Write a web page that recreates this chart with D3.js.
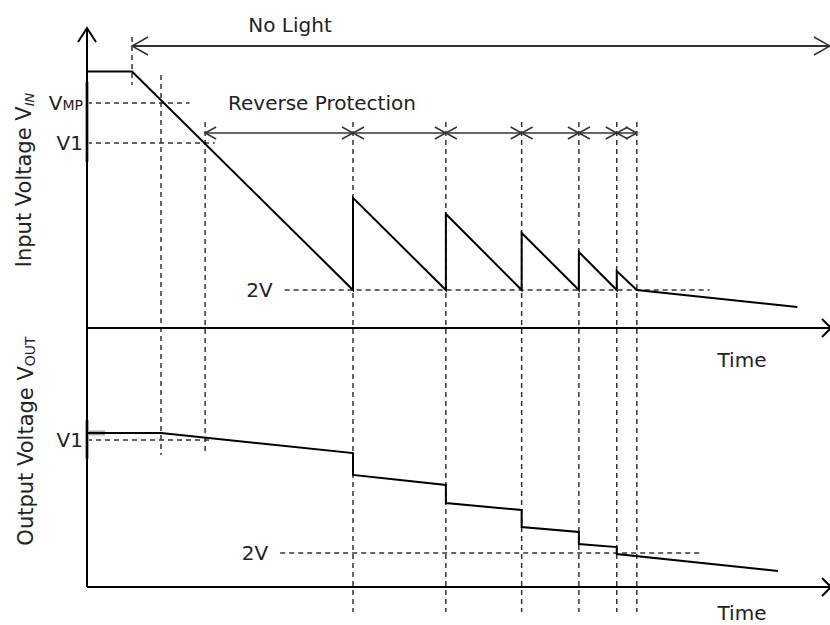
<!DOCTYPE html>
<html>
<head>
<meta charset="utf-8">
<script src="https://cdn.jsdelivr.net/npm/d3@7"></script>
<style>
  body { margin: 0; background: #fff; }
  text { font-family: "DejaVu Sans", Verdana, sans-serif; fill: #222; }
</style>
</head>
<body>
<div id="chart"></div>
<script>
// time is in arbitrary units along the time axis (0..100)
var noLight = [6.06, 100];
var vmpTime = 9.96;
var protectTimes = [15.9, 35.8, 48.3, 58.5, 66.2, 71.3, 74.0];

// input voltage trace, [time, volts]
var vinTrace = [[0, 13.5], [6.06, 13.5], [35.8, 2], [35.8, 6.85], [48.3, 2], [48.3, 6.0],
                [58.5, 2], [58.5, 5.0], [66.2, 2], [66.2, 4.0], [71.3, 2], [71.3, 3.0],
                [74.0, 2], [95.6, 1.1]];
// output voltage trace, [time, volts]
var voutTrace = [[0, 9.06], [9.96, 9.06], [35.8, 7.88], [35.8, 6.59], [48.3, 6.0], [48.3, 4.94],
                 [58.5, 4.53], [58.5, 3.53], [66.2, 3.24], [66.2, 2.53], [71.3, 2.35], [71.3, 1.94],
                 [93.0, 0.94]];

// reference levels: label, volts, dashed from/to (time)
var vinRefs = [
  {label: 'V', sub: 'MP', v: 11.84, from: 0, to: 13.8},
  {label: 'V1', sub: '', v: 9.74, from: 0, to: 17.2},
  {label: '2V', sub: '', v: 2, from: 26.6, to: 83.8}
];
var voutRefs = [
  {label: 'V1', sub: '', v: 8.65, from: 0, to: 16.5},
  {label: '2V', sub: '', v: 2, from: 26.0, to: 82.5}
];

var width = 830, height = 625;
var x0 = 87, inAxisY = 328, outAxisY = 587;

var svg = d3.select('#chart').append('svg')
    .attr('width', width)
    .attr('height', height);

var x = d3.scaleLinear().domain([0, 100]).range([x0, 830]);
var yIn = d3.scaleLinear().domain([0, 15]).range([inAxisY, inAxisY - 15 * 19]);
var yOut = d3.scaleLinear().domain([0, 16]).range([outAxisY, outAxisY - 16 * 17]);

var dashed = svg.append('g')
    .attr('stroke', '#333')
    .attr('stroke-width', 1.5)
    .attr('stroke-dasharray', '5,4')
    .attr('fill', 'none');

// vertical markers
function vdash(t, y1, y2) {
  dashed.append('line')
      .attr('x1', x(t)).attr('x2', x(t))
      .attr('y1', y1).attr('y2', y2);
}
vdash(noLight[0], 37, 85);
vdash(vmpTime, 75, 455);
protectTimes.forEach(function(t, i) {
  vdash(t, 122, i === 0 ? 455 : 612);
});

// horizontal reference levels
function refs(list, yScale) {
  list.forEach(function(d) {
    dashed.append('line')
        .attr('x1', x(d.from)).attr('x2', x(d.to))
        .attr('y1', yScale(d.v)).attr('y2', yScale(d.v));
    var lx = d.from === 0 ? x0 - 4 : x(d.from) - 12;
    var t = svg.append('text')
        .attr('x', lx)
        .attr('y', yScale(d.v))
        .attr('dy', '0.36em')
        .attr('text-anchor', 'end')
        .style('font-size', '20px')
        .text(d.label);
    if (d.sub) {
      t.append('tspan').style('font-size', '14px').text(d.sub);
    }
  });
}
refs(vinRefs, yIn);
refs(voutRefs, yOut);

// grey selection marks on the axis
svg.append('line').attr('x1', x0).attr('x2', x0).attr('y1', 82).attr('y2', 162)
    .attr('stroke', '#aaa').attr('stroke-width', 4);
svg.append('line').attr('x1', x0).attr('x2', x0).attr('y1', 420).attr('y2', 459)
    .attr('stroke', '#aaa').attr('stroke-width', 4);
svg.append('line').attr('x1', x0).attr('x2', 105).attr('y1', yOut(9.06)).attr('y2', yOut(9.06))
    .attr('stroke', '#aaa').attr('stroke-width', 5);

// traces
var lineIn = d3.line().x(function(d) { return x(d[0]); }).y(function(d) { return yIn(d[1]); });
var lineOut = d3.line().x(function(d) { return x(d[0]); }).y(function(d) { return yOut(d[1]); });

svg.append('path').datum(vinTrace)
    .attr('d', lineIn)
    .attr('fill', 'none').attr('stroke', '#000').attr('stroke-width', 2);
svg.append('path').datum(voutTrace)
    .attr('d', lineOut)
    .attr('fill', 'none').attr('stroke', '#000').attr('stroke-width', 2);

// open chevron arrow head
function chevron(g, tx, ty, dir, len, half) {
  var p;
  if (dir === 'left') p = [[tx + len, ty - half], [tx, ty], [tx + len, ty + half]];
  if (dir === 'right') p = [[tx - len, ty - half], [tx, ty], [tx - len, ty + half]];
  if (dir === 'up') p = [[tx - half, ty + len], [tx, ty], [tx + half, ty + len]];
  g.append('path')
      .attr('d', d3.line()(p))
      .attr('fill', 'none');
}

// axes
var axes = svg.append('g').attr('stroke', '#000').attr('stroke-width', 2);
axes.append('line').attr('x1', x0).attr('x2', x0).attr('y1', 28).attr('y2', outAxisY);
axes.append('line').attr('x1', x0).attr('x2', 831).attr('y1', inAxisY).attr('y2', inAxisY);
axes.append('line').attr('x1', x0).attr('x2', 831).attr('y1', outAxisY).attr('y2', outAxisY);
chevron(axes, x0, 28, 'up', 14, 9);
chevron(axes, 831, inAxisY, 'right', 9, 9);
chevron(axes, 831, outAxisY, 'right', 9, 9);

// No Light dimension
var dims = svg.append('g').attr('stroke', '#333').attr('stroke-width', 1.5);
var nlY = 46;
dims.append('line').attr('x1', x(noLight[0])).attr('x2', x(noLight[1]))
    .attr('y1', nlY).attr('y2', nlY).attr('stroke-width', 2);
chevron(dims, x(noLight[0]), nlY, 'left', 16, 9);
chevron(dims, x(noLight[1]), nlY, 'right', 16, 9);

// Reverse Protection dimensions
var rpY = 133;
for (var i = 0; i < protectTimes.length - 1; i++) {
  var a = x(protectTimes[i]), b = x(protectTimes[i + 1]);
  dims.append('line').attr('x1', a).attr('x2', b).attr('y1', rpY).attr('y2', rpY);
  chevron(dims, a, rpY, 'left', 11, 6);
  chevron(dims, b, rpY, 'right', 11, 6);
}

// labels
svg.append('text').attr('x', 290).attr('y', 32)
    .attr('text-anchor', 'middle').style('font-size', '20px').text('No Light');
svg.append('text').attr('x', 228).attr('y', 110)
    .style('font-size', '20px').text('Reverse Protection');
svg.append('text').attr('x', 742).attr('y', 367)
    .attr('text-anchor', 'middle').style('font-size', '20px').text('Time');
svg.append('text').attr('x', 742).attr('y', 620)
    .attr('text-anchor', 'middle').style('font-size', '20px').text('Time');

var inLab = svg.append('text')
    .attr('transform', 'translate(31,180) rotate(-90)')
    .attr('text-anchor', 'middle').style('font-size', '21px')
    .text('Input Voltage V');
inLab.append('tspan').attr('dy', 3).style('font-size', '13px').style('font-style', 'italic').text('IN');

var outLab = svg.append('text')
    .attr('transform', 'translate(33,441) rotate(-90)')
    .attr('text-anchor', 'middle').style('font-size', '21px')
    .text('Output Voltage V');
outLab.append('tspan').attr('dy', 2).style('font-size', '14px').text('OUT');
</script>
</body>
</html>
